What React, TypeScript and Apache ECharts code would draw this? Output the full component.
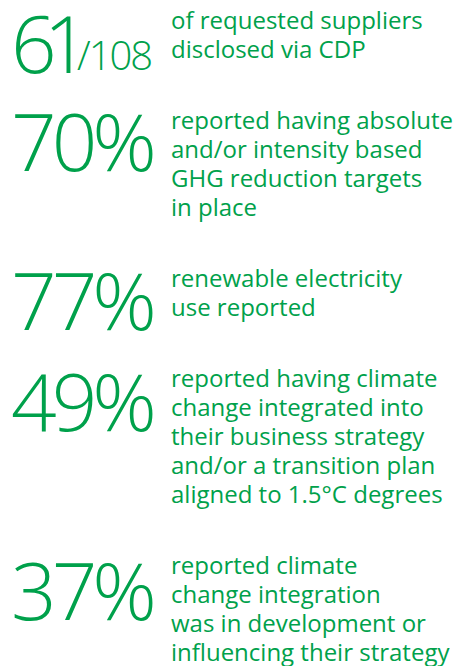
import React, { useEffect, useRef } from "react";
import * as echarts from "echarts";

const statMain = ["61", "70%", "77%", "49%", "37%"];
const statSuffix = ["/108", "", "", "", ""];
const descriptions = [
  ["of requested suppliers", "disclosed via CDP"],
  ["reported having absolute", "and/or intensity based", "GHG reduction targets", "in place"],
  ["renewable electricity", "use reported"],
  ["reported having climate", "change integrated into", "their business strategy", "and/or a transition plan", "aligned to 1.5°C degrees"],
  ["reported climate", "change integration", "was in development or", "influencing their strategy"],
];

// layout (baselines in px)
const numBaselines = [68, 166, 325, 426, 615];
const textBaselines = [27, 127, 285, 385, 572];

const GREEN = "#00A14B";
const FONT = "'Open Sans', 'Noto Sans', sans-serif";

function measure(ctx: CanvasRenderingContext2D | null, font: string, s: string, fallback: number) {
  if (!ctx) return fallback;
  ctx.font = font;
  return ctx.measureText(s).width;
}

export default function App() {
  const ref = useRef<HTMLDivElement>(null);
  useEffect(() => {
    if (!ref.current) return;
    const chart = echarts.init(ref.current, null, { renderer: "svg" });
    const ctx = document.createElement("canvas").getContext("2d");
    const elements: any[] = [];
    const bigSize = 80;
    const sufSize = 40;
    const txtSize = 24;
    const lh = 29;
    const bigFont = `300 ${bigSize}px ${FONT}`;
    const sufFont = `300 ${sufSize}px ${FONT}`;

    const tracked = (str: string, x0: number, baseline: number, size: number, font: string, track: number) => {
      let cx = x0;
      for (let k = 0; k < str.length; k++) {
        const ch = str[k];
        if (k > 0 && ch === "1" && str[k - 1] !== "/") cx -= size * 0.1;
        elements.push({
          type: "text",
          x: cx,
          y: baseline - size * 0.33,
          style: {
            text: ch,
            fill: GREEN,
            font,
            textVerticalAlign: "middle",
            textAlign: "left",
          },
        });
        cx += measure(ctx, font, ch, size * 0.57) + track;
      }
      return cx;
    };

    statMain.forEach((s, i) => {
      tracked(s, 11, numBaselines[i], bigSize, bigFont, -5);
      if (statSuffix[i]) {
        tracked(statSuffix[i], 77, numBaselines[i], sufSize, sufFont, -2);
      }
      descriptions[i].forEach((line, j) => {
        elements.push({
          type: "text",
          x: 171,
          y: textBaselines[i] + j * lh - txtSize * 0.33,
          style: {
            text: line,
            fill: GREEN,
            font: `400 ${txtSize}px ${FONT}`,
            textVerticalAlign: "middle",
            textAlign: "left",
          },
        });
      });
    });
    chart.setOption({
      animation: false,
      backgroundColor: "#ffffff",
      graphic: { elements },
    });
    return () => chart.dispose();
  }, []);
  return (
    <div
      ref={ref}
      style={{ position: "fixed", left: 0, top: 0, width: 455, height: 666 }}
    />
  );
}
